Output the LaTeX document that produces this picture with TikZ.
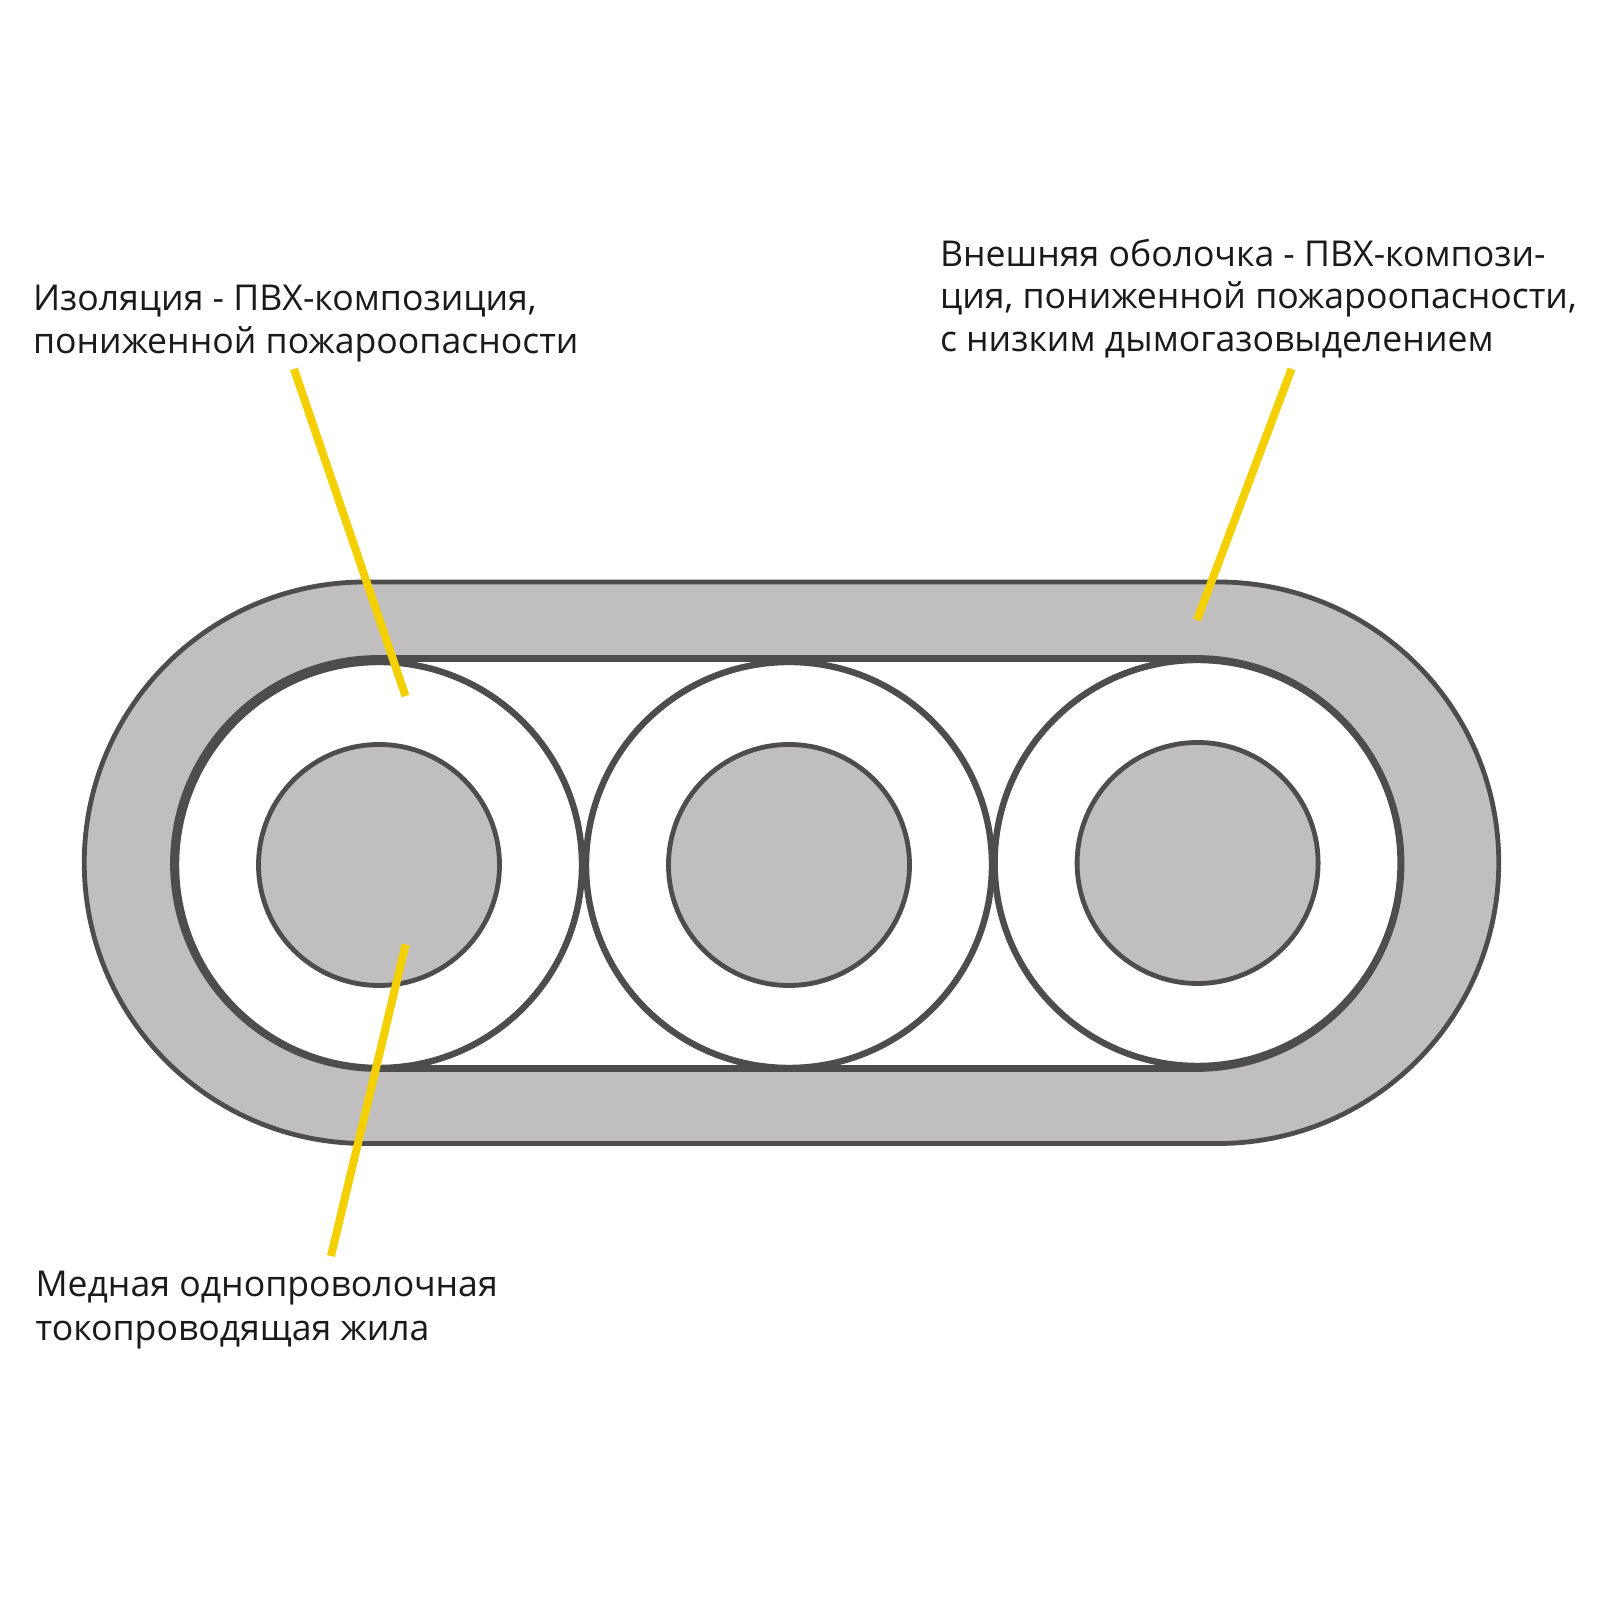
\documentclass[tikz,border=0pt]{standalone}
\usepackage{fontspec}
\setmainfont{Open Sans}
\definecolor{sheath}{HTML}{C0BEBE}
\definecolor{edge}{HTML}{4D4D4D}
\definecolor{leader}{HTML}{F5D000}
\definecolor{ink}{HTML}{1A1A1A}
\tikzset{
  sheathpath/.style={draw=edge,line width=2.4pt,fill=sheath},
  innerpath/.style={draw=edge,line width=3.4pt,fill=white},
  insul/.style={draw=edge,line width=3.2pt,fill=white},
  core/.style={draw=edge,line width=2.4pt,fill=sheath},
  leaderline/.style={draw=leader,line width=4pt},
  lbl/.style={anchor=base west,inner sep=0pt,outer sep=0pt,text=ink,font=\fontsize{17.8pt}{22pt}\selectfont},
}
\begin{document}
\begin{tikzpicture}[x=0.5pt,y=0.5pt]
\useasboundingbox (0,0) rectangle (1600,1600);
\fill[white] (0,0) rectangle (1600,1600);
% sheath
\path[sheathpath] (365,1018) -- (1218,1018) arc[start angle=90,end angle=-90,radius=280.75] -- (365,456.5) arc[start angle=270,end angle=90,radius=280.75] -- cycle;
\path[innerpath] (378.5,941.5) -- (1196,941.5) arc[start angle=90,end angle=-90,radius=205] -- (378.5,531.5) arc[start angle=270,end angle=90,radius=205] -- cycle;
% insulated conductors
\path[insul] (379,735) circle[radius=203];
\path[insul] (789,735) circle[radius=203];
\path[insul] (1197.6,737) circle[radius=203];
\path[core] (379,735) circle[radius=120.5];
\path[core] (789,735) circle[radius=120.5];
\path[core] (1197.6,737) circle[radius=120.5];
% labels
\node[lbl] (ins1) at (33,1289.5) {Изоляция - ПВХ-композиция,};
\node[lbl] (ins2) at (33,1246.5) {пониженной пожароопасности};
\node[lbl] (out1) at (940,1333) {Внешняя оболочка - ПВХ-компози-};
\node[lbl] (out2) at (940,1291) {ция, пониженной пожароопасности,};
\node[lbl] (out3) at (940,1248.5) {с низким дымогазовыделением};
\node[lbl] (cu1) at (35.5,303) {Медная однопроволочная};
\node[lbl] (cu2) at (35.5,259.5) {токопроводящая жила};
% leaders
\coordinate (a1) at (294,1231); \coordinate (a2) at (405.5,904);
\coordinate (b1) at (1291.5,1231); \coordinate (b2) at (1197,980);
\coordinate (c1) at (405.6,655.5); \coordinate (c2) at (331,344);
\draw[leaderline] (a1) -- (a2);
\draw[leaderline] (b1) -- (b2);
\draw[leaderline] (c1) -- (c2);
\end{tikzpicture}
\end{document}
